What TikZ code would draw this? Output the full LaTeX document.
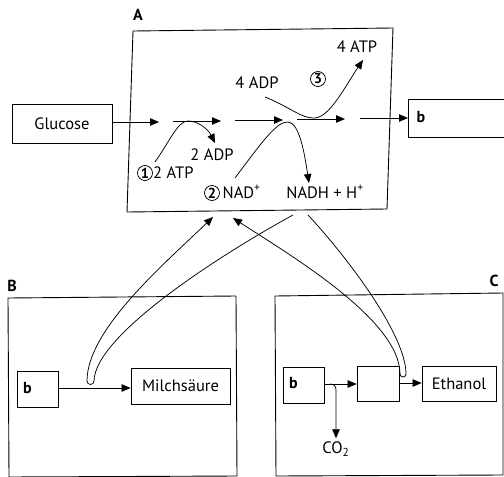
\documentclass[tikz,border=0pt]{standalone}
\usepackage{fontspec}
\setmainfont{PT Sans}
\usetikzlibrary{arrows.meta}
\begin{document}
\begin{tikzpicture}[x=1pt,y=-1pt,
  every node/.style={font=\fontsize{16.5}{18}\selectfont},
  box/.style={draw, line width=0.8pt, inner sep=0pt},
  frame/.style={line width=0.9pt},
  arr/.style={line width=0.75pt,-{Triangle[length=9pt,width=7.5pt]}},
  num/.style={draw, circle, line width=0.75pt, inner sep=0pt, minimum size=15pt, font=\fontsize{14.5}{16}\selectfont\bfseries},
  lbl/.style={font=\fontsize{16}{18}\selectfont\bfseries}]
\useasboundingbox (0,0) rectangle (504,477);
% frames
\draw[frame] (133,31) -- (393,28) -- (387,209) -- (127,212) -- cycle;
\draw[frame] (8,298) -- (236,296) -- (237,476) -- (9,477) -- cycle;
\draw[frame] (275,296) -- (503,293) -- (503,475) -- (276,476) -- cycle;
\node[lbl] (lA) at (138,15) {A};
\node[lbl] (lB) at (12,286) {B};
\node[lbl] (lC) at (494,281) {C};
% top chain
\node[box, minimum width=100pt, minimum height=39pt] (glc) at (62,123.5) {Glucose};
\draw[line width=0.8pt] (504,99) -- (408,99) -- (408,137) -- (504,137);
\coordinate (bR) at (408,118);
\node[lbl] (bRt) at (421,117) {b};
\coordinate (e1) at (159,122);
\coordinate (s2) at (173,121); \coordinate (e2) at (221,121);
\coordinate (s3) at (235,120); \coordinate (e3) at (283,120);
\coordinate (s4) at (297,119); \coordinate (e4) at (345,119);
\coordinate (s5) at (360,118);
\draw[arr] (glc.east |- e1) -- (e1);
\draw[arr] (s2) -- (e2);
\draw[arr] (s3) -- (e3);
\draw[arr] (s4) -- (e4);
\draw[arr] (s5) -- (bR);
% labels in A
\node (atp4) at (357,47) {4 ATP};
\node[num] (n3) at (318,79) {3};
\node (adp4) at (257,83) {4 ADP};
\node (adp2) at (212,155) {2 ADP};
\node[num] (n1) at (145,173) {1};
\node[anchor=west, inner sep=0pt] (atp2) at (153,172.5) {2 ATP};
\node[num] (n2) at (212,193) {2};
\node[anchor=west, inner sep=0pt] (nad) at (222.5,192) {NAD\textsuperscript{+}};
\node (nadh) at (325,192) {NADH + H\textsuperscript{+}};
% coupling curves in A
\coordinate (c1s) at (155,162); \coordinate (c1e) at (215,143);
\draw[arr] (c1s) .. controls (171,139) and (178,121) .. (188,121)
  .. controls (198,121) and (208,129) .. (c1e);
\coordinate (c2s) at (235,178); \coordinate (c2e) at (309,183);
\draw[arr] (c2s) .. controls (262,142) and (277,121) .. (288,122)
  .. controls (299,123) and (304,150) .. (c2e);
\coordinate (c3s) at (265,97); \coordinate (c3e) at (363,60);
\draw[arr] (c3s) .. controls (290,107) and (302,119) .. (315,118)
  .. controls (330,117) and (346,85) .. (c3e);
% B box
\node[box, minimum width=41pt, minimum height=36pt] (bB) at (37.5,389) {};
\node[lbl] (bBt) at (27.5,388) {b};
\node[box, minimum width=99pt, minimum height=36pt] (milch) at (180.5,386) {Milchsäure};
\draw[arr] (bB.east |- 0,388) -- (milch.west |- 0,388);
% C box
\node[box, minimum width=41pt, minimum height=36pt] (bC) at (303.5,385) {};
\node[lbl] (bCt) at (293.5,383) {b};
\node[box, minimum width=42pt, minimum height=35pt] (mid) at (378,384) {};
\node[box, minimum width=74pt, minimum height=35pt] (eth) at (459,383.5) {Ethanol};
\draw[arr] (bC.east |- 0,384) -- (mid.west |- 0,384);
\draw[arr] (mid.east |- 0,383) -- (eth.west |- 0,383);
\coordinate (co2s) at (330,384);
\node (co2) at (336,449) {CO\textsubscript{2}};
\draw[arr] (co2s) .. controls (334,384) and (336,386) .. (336,390) -- (co2.north);
% regeneration curves
\coordinate (nadhB) at (293,215);
\coordinate (nadB) at (213,217);
\draw[arr] (nadhB) .. controls (220,255) and (95,335) .. (94,381)
  arc[start angle=0, end angle=180, radius=3.5]
  .. controls (87,330) and (163,265) .. (nadB);
\coordinate (nadhC) at (308,215);
\coordinate (nadC) at (233,218);
\draw[arr] (nadhC) .. controls (348,258) and (406,335) .. (406,374)
  arc[start angle=0, end angle=180, radius=3]
  .. controls (400,320) and (290,255) .. (nadC);
\end{tikzpicture}
\end{document}
